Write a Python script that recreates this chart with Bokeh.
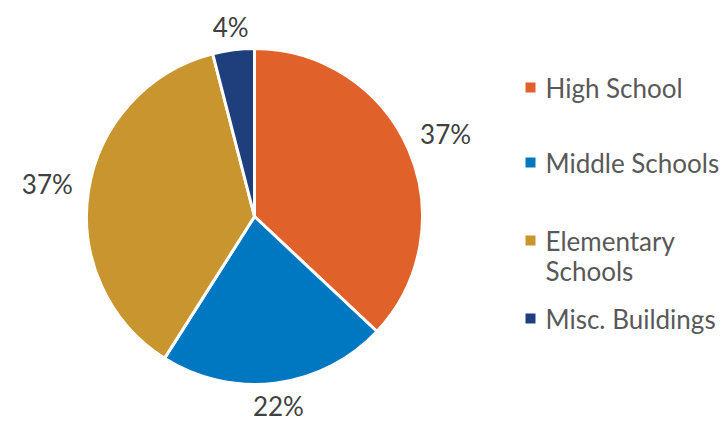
import math
from bokeh.plotting import figure
from bokeh.models import ColumnDataSource, Range1d
from bokeh.core.properties import value
from bokeh.embed import file_html
from bokeh.resources import INLINE

categories = ["High School", "Middle Schools", "Elementary Schools", "Misc. Buildings"]
legend_labels = ["High School", "Middle Schools", "Elementary\nSchools", "Misc. Buildings"]
percentages = [37, 22, 37, 4]
colors = ["#E0612A", "#0077C1", "#C9952F", "#1F3E7C"]

W, H = 722, 423
p = figure(width=W, height=H, output_backend="svg", toolbar_location=None,
           x_range=Range1d(0, W), y_range=Range1d(0, H))
p.axis.visible = False
p.grid.visible = False
p.outline_line_color = None
p.background_fill_color = "white"
p.border_fill_color = "white"
p.min_border = 0

cx, cy, r = 254, H - 216, 168
total = sum(percentages)
starts, ends, lx, ly, labels = [], [], [], [], []
cum = 0
for v in percentages:
    a0 = math.pi / 2 - cum / total * 2 * math.pi
    cum += v
    a1 = math.pi / 2 - cum / total * 2 * math.pi
    starts.append(a0)
    ends.append(a1)
    mid = (a0 + a1) / 2
    rr = r + 20 + abs(math.cos(mid)) * 22
    lx.append(cx + rr * math.cos(mid))
    ly.append(cy + rr * math.sin(mid))
    labels.append(f"{v}%")

src = ColumnDataSource(dict(start=starts, end=ends, color=colors, cat=categories))
p.wedge(x=cx, y=cy, radius=r, start_angle="start", end_angle="end", direction="clock",
        fill_color="color", line_color="white", line_width=3, source=src)

p.text(x=lx, y=ly, text=labels, text_font=value("Lato"), text_font_size="26px",
       text_color="#404040", text_align="center", text_baseline="middle")

leg_y = [87, 162, 240, 318]
p.rect(x=[530] * 4, y=[H - y for y in leg_y], width=10, height=10, fill_color=colors, line_color=None)
tx, ty, tt = [], [], []
for y, lab in zip(leg_y, legend_labels):
    for i, line in enumerate(lab.split("\n")):
        tx.append(545)
        ty.append(H - y - i * 30)
        tt.append(line)
p.text(x=tx, y=ty, text=tt, text_font=value("Lato"), text_font_size="26px",
       text_color="#595959", text_align="left", text_baseline="middle")

open("out.html", "w").write(file_html(p, INLINE))
